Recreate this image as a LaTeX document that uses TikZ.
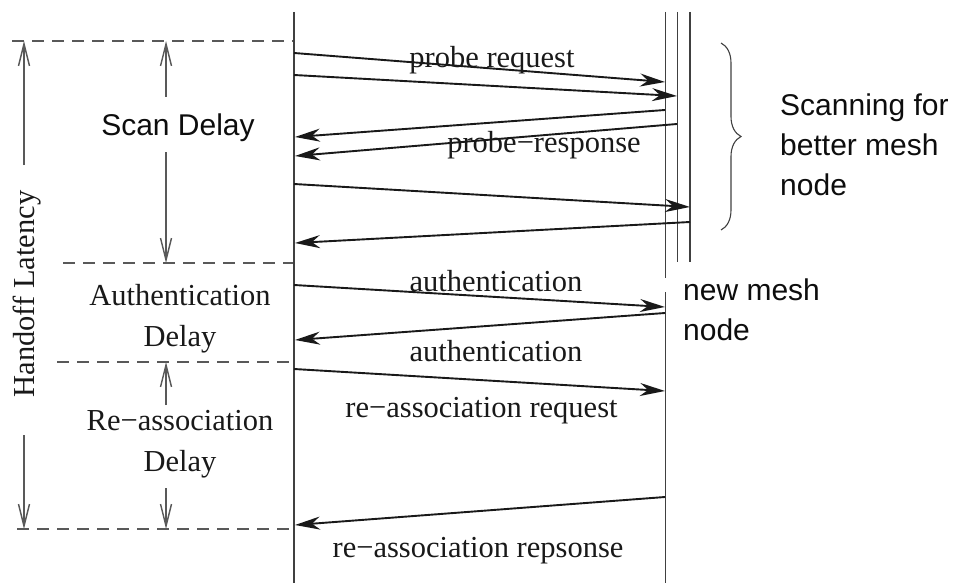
\documentclass[tikz,border=0pt]{standalone}
\usepackage{fontspec}
\setmainfont{Liberation Serif}
\newfontfamily\arialfont{Liberation Sans}
\usetikzlibrary{arrows.meta,decorations.pathreplacing}
\tikzset{
  lifeline/.style={draw=black!75, line width=1.5pt},
  msg/.style={draw=black!90, line width=1.9pt, -{Stealth[length=25pt,width=13pt,inset=8pt]}},
  sep/.style={draw=black!65, line width=1.4pt, dash pattern=on 12pt off 8pt},
  span/.style={draw=black!65, line width=1.4pt, -{Straight Barb[length=22pt,width=11pt]}},
  serif/.style={font=\fontsize{30.5}{41}\selectfont, inner sep=0pt, text=black!90},
  sans/.style={font=\arialfont\fontsize{30}{40}\selectfont, inner sep=0pt, text=black!95},
}
\begin{document}
\begin{tikzpicture}[x=1pt,y=-1pt]
\useasboundingbox (0,0) rectangle (966,583);
% lifelines
\coordinate (Ltop) at (294,12);
\coordinate (Lbot) at (294,583);
\coordinate (Aatop) at (665.5,12);
\coordinate (Aamid) at (665.5,278);
\coordinate (Aamid2) at (665.5,292);
\coordinate (Aabot) at (665.5,583);
\coordinate (Btop) at (677.5,12);
\coordinate (Bbot) at (677.5,262);
\coordinate (Ctop) at (690,12);
\coordinate (Cbot) at (690,262);
\draw[lifeline] (Ltop) -- (Lbot);
\draw[lifeline] (Aatop) -- (Aamid);
\draw[lifeline] (Aamid2) -- (Aabot);
\draw[lifeline] (Btop) -- (Bbot);
\draw[lifeline] (Ctop) -- (Cbot);
% separators
\coordinate (s1a) at (12,41);  \coordinate (s1b) at (293,41);
\coordinate (s2a) at (63,263); \coordinate (s2b) at (293,263);
\coordinate (s3a) at (57,362); \coordinate (s3b) at (293,362);
\coordinate (s4a) at (17,529); \coordinate (s4b) at (293,529);
\draw[sep] (s1a) -- (s1b);
\draw[sep] (s2a) -- (s2b);
\draw[sep] (s3a) -- (s3b);
\draw[sep] (s4a) -- (s4b);
% messages
\coordinate (m1s) at (294,53);   \coordinate (m1e) at (665,82);
\coordinate (m2s) at (294,75);   \coordinate (m2e) at (677,96);
\coordinate (m3s) at (665,110);  \coordinate (m3e) at (295,137);
\coordinate (m4s) at (677,124);  \coordinate (m4e) at (295,156);
\coordinate (m5s) at (294,184);  \coordinate (m5e) at (690,207);
\coordinate (m6s) at (690,222);  \coordinate (m6e) at (295,243);
\coordinate (m7s) at (294,285);  \coordinate (m7e) at (665,307);
\coordinate (m8s) at (665,313);  \coordinate (m8e) at (295,340);
\coordinate (m9s) at (294,369);  \coordinate (m9e) at (665,391);
\coordinate (m10s) at (665,497); \coordinate (m10e) at (295,525);
\foreach \i in {1,...,10} {\draw[msg] (m\i s) -- (m\i e);}
% message labels
\node[serif, anchor=base] (lpr) at (492,68) {probe request};
\node[serif, anchor=base] (lps) at (544,152) {probe−response};
\node[serif, anchor=base] (la1) at (496,291) {authentication};
\node[serif, anchor=base] (la2) at (496,361) {authentication};
\node[serif, anchor=base] (lrq) at (481.5,417) {re−association request};
\node[serif, anchor=base] (lrs) at (478,557) {re−association repsonse};
% delay labels
\node[sans] (scan) at (178,128) {Scan Delay};
\node[serif, align=center] (auth) at (180,319) {Authentication\\Delay};
\node[serif, align=center] (reas) at (180,444) {Re−association\\Delay};
\node[serif, rotate=90] (hand) at (27,294) {Handoff Latency};
% delay arrows
\coordinate (sc1) at (166,97);  \coordinate (sc1e) at (166,41);
\coordinate (sc2) at (166,152); \coordinate (sc2e) at (166,263);
\coordinate (re1) at (166,405); \coordinate (re1e) at (166,362);
\coordinate (re2) at (166,488); \coordinate (re2e) at (166,529);
\coordinate (ho1) at (24,165);  \coordinate (ho1e) at (24,41);
\coordinate (ho2) at (24,435);  \coordinate (ho2e) at (24,529);
\draw[span] (sc1) -- (sc1e);
\draw[span] (sc2) -- (sc2e);
\draw[span] (re1) -- (re1e);
\draw[span] (re2) -- (re2e);
\draw[span] (ho1) -- (ho1e);
\draw[span] (ho2) -- (ho2e);
% brace and notes
\coordinate (bt) at (721,43);
\coordinate (bb) at (721,230);
\draw[black!75, line width=1.1pt, decorate, decoration={brace, amplitude=20pt}] (bt) -- (bb);
\node[sans, align=left, anchor=west] (scanning) at (780,145) {Scanning for\\better mesh\\node};
\node[sans, align=left, anchor=west] (newmesh) at (683,310) {new mesh\\node};
\end{tikzpicture}
\end{document}
